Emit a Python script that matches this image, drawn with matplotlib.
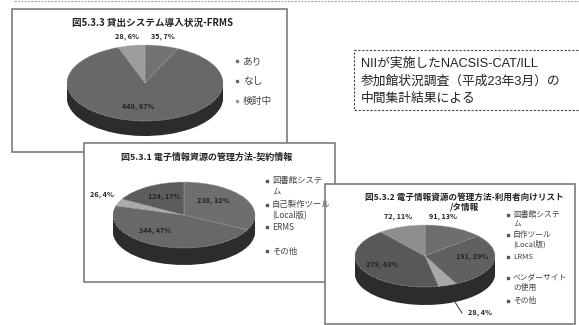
import matplotlib
matplotlib.use('Agg')
import matplotlib.pyplot as plt
from matplotlib.patches import Rectangle

plt.rcParams['font.family'] = ['Noto Sans CJK JP', 'DejaVu Sans']

W, H = 579, 325

note_lines = ['NIIが実施したNACSIS-CAT/ILL', '参加館状況調査（平成23年3月）の', '中間集計結果による']

title1 = '図5.3.3 貸出システム導入状況-FRMS'
values1 = [35, 440, 28]
colors1 = ['#727272', '#686868', '#9c9c9c']
labels1 = ['35, 7%', '440, 87%', '28, 6%']
legend1 = ['あり', 'なし', '検討中']

title2 = '図5.3.1 電子情報資源の管理方法-契約情報'
values2 = [238, 344, 26, 124]
colors2 = ['#6e6e6e', '#686868', '#ababab', '#5c5c5c']
labels2 = ['238, 32%', '344, 47%', '26, 4%', '124, 17%']
legend2 = ['図書館システ\nム', '自己製作ツール\n(Local版)', 'ERMS', 'その他']

title3 = '図5.3.2 電子情報資源の管理方法-利用者向けリスト\n/タ情報'
values3 = [91, 191, 28, 279, 72]
colors3 = ['#6e6e6e', '#606060', '#a8a8a8', '#585858', '#8e8e8e']
labels3 = ['91, 13%', '191, 29%', '28, 4%', '279, 43%', '72, 11%']
legend3 = ['図書館システ\nム', '自作ツール\n(Local版)', 'LRMS', 'ベンダーサイト\nの使用', 'その他']


def draw_pie(fig, cx, cy, rx, ry, depth, values, colors):
    # pie squashed into a flat box, dark copies stacked below for the side
    span = ry + depth
    ax = fig.add_axes([(cx - rx) / W, 1 - (cy + span) / H, 2 * rx / W, (ry + span) / H])
    ax.patch.set_alpha(0)
    for k in range(depth, 0, -1):
        ax.pie(values, colors=['#2c2c2c'], center=(0, -k / ry), startangle=90,
               counterclock=False)
    ax.pie(values, colors=colors, startangle=90, counterclock=False,
           wedgeprops={'edgecolor': '#b4b4b4', 'linewidth': 0.5, 'linestyle': (0, (2, 2))})
    ax.set_aspect('auto')
    ax.set_xlim(-1, 1)
    ax.set_ylim(-span / ry, 1)
    ax.axis('off')


def draw_legend(ax, items, x, ys, size):
    for t, y in zip(items, ys):
        offset = 5 if '\n' in t else 0
        ax.plot([x], [y - offset], 's', ms=1.8, color='#555555')
        ax.text(x + 5, y, t, fontsize=size, va='center', color='#444444', linespacing=1.25)


def put_label(ax, x, y, text):
    ax.text(x, y, text, fontsize=5.2, weight='bold', ha='center', va='center', color='#222222')


fig = plt.figure(figsize=(W / 100, H / 100), dpi=100, facecolor='white')
bg = fig.add_axes([0, 0, 1, 1])
bg.set_xlim(0, W)
bg.set_ylim(H, 0)
bg.axis('off')

bg.plot([14, 579], [1, 1], color='#aaaaaa', lw=0.8, ls=(0, (2, 1)))

# note box
bg.add_patch(Rectangle((354, 50), 226, 60, fill=False, ec='#444444', lw=0.8, ls=(0, (2, 1.5))))
for i, line in enumerate(note_lines):
    bg.text(361, 64 + i * 17.7, line, fontsize=9.2, family=['Liberation Sans', 'Noto Sans CJK JP'],
            va='center', ha='left', color='#222222')

# panels
for x, y, w, h, z in [(12, 9, 275, 143, 1), (84, 143, 251, 139, 2), (325, 184, 250, 140, 3)]:
    bg.add_patch(Rectangle((x, y), w, h, fc='white', ec='#7c7c7c', lw=1.2, zorder=z))

draw_pie(fig, 145, 83, 78, 38, 15, values1, colors1)
draw_pie(fig, 184, 215, 71, 33, 17, values2, colors2)
draw_pie(fig, 425, 256, 70, 31, 18, values3, colors3)

top = fig.add_axes([0, 0, 1, 1])
top.set_xlim(0, W)
top.set_ylim(H, 0)
top.axis('off')
top.patch.set_alpha(0)

top.text(153, 23, title1, fontsize=6.9, weight='bold', ha='center', va='center', color='#222222')
put_label(top, 127, 37, labels1[2])
put_label(top, 163, 37, labels1[0])
put_label(top, 138, 106, labels1[1])
for i, t in enumerate(legend1):
    top.plot([237], [61 + i * 20], 's', ms=2, color=colors1[i])
    top.text(243, 61 + i * 20, t, fontsize=7, va='center', color='#444444')

top.text(207, 157, title2, fontsize=6.5, weight='bold', ha='center', va='center', color='#222222')
put_label(top, 213, 200, labels2[0])
put_label(top, 155, 231, labels2[1])
put_label(top, 102, 195, labels2[2])
put_label(top, 164, 196, labels2[3])
draw_legend(top, legend2, 267, [186, 210, 227, 251], 6)

top.text(464, 202, title3, fontsize=6.2, weight='bold', ha='center', va='center', color='#222222',
         linespacing=1.15)
put_label(top, 443, 217, labels3[0])
put_label(top, 472, 256, labels3[1])
put_label(top, 480, 313, labels3[2])
put_label(top, 382, 265, labels3[3])
put_label(top, 398, 217, labels3[4])
top.plot([455, 462], [302, 313], color='#333333', lw=0.7)
draw_legend(top, legend3, 508, [220, 240, 257, 283, 301], 5.6)

fig.savefig('out.png', dpi=100)
